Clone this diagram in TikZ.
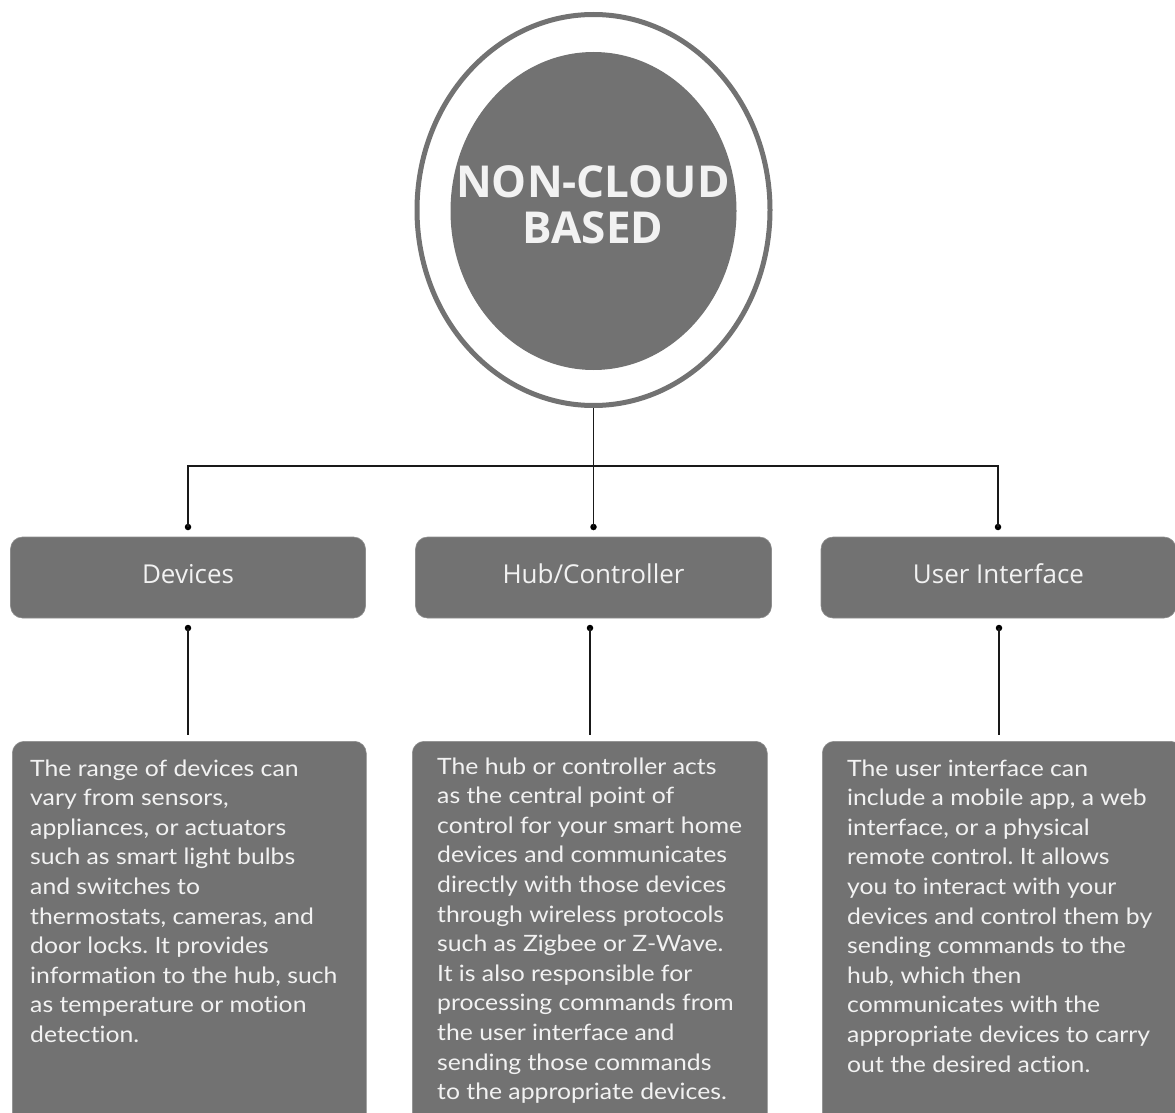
\documentclass[tikz,border=0pt]{standalone}
\usepackage{fontspec}
\setmainfont[FakeStretch=1.1,Ligatures=NoCommon]{Lato}
\newfontfamily\headfont{Open Sans}
\usetikzlibrary{shapes.geometric}
\definecolor{boxgray}{HTML}{727272}
\definecolor{lighttxt}{HTML}{F2F2F2}
\frenchspacing
\begin{document}
\begin{tikzpicture}[x=1pt,y=-1pt,
  ring/.style={ellipse, draw=boxgray, line width=5pt, inner sep=0pt, minimum width=353pt, minimum height=391pt},
  core/.style={ellipse, fill=boxgray, inner sep=0pt, minimum width=286pt, minimum height=318pt},
  headtext/.style={inner sep=0pt, anchor=base, text=lighttxt, font=\headfont\bfseries\fontsize{44}{46}\selectfont},
  titlebox/.style={rounded corners=12pt, fill=boxgray, draw=boxgray!80, line width=0.6pt, minimum width=355pt, minimum height=81pt, inner sep=0pt, text=lighttxt, text height=19pt, text depth=8pt, font=\headfont\fontsize{26}{30}\selectfont},
  bodybox/.style={rounded corners=12pt, fill=boxgray, draw=boxgray!80, line width=0.6pt, anchor=north west, minimum height=400pt, inner sep=0pt},
  bodytext/.style={inner sep=0pt, anchor=base west, text=lighttxt, font=\frenchspacing\fontsize{22.5}{29.6}\selectfont},
  conn/.style={draw=black!90, line width=1.6pt},
  dot/.style={circle, fill=black, inner sep=0pt, minimum size=6.5pt}
]
\useasboundingbox (0,0) rectangle (1175,1113);
\clip (0,0) rectangle (1175,1113);

% central circle
\node[ring] (outer) at (593.5,210) {};
\node[core] (core) at (593.5,211) {};
\node[headtext] (head) at (593,197) {\parbox[t]{300pt}{\centering NON-CLOUD\\BASED}};

% title boxes
\node[titlebox] (devices) at (188,577.5) {Devices};
\node[titlebox, minimum width=356pt] (hub) at (593.5,577.5) {Hub/Controller};
\node[titlebox] (ui) at (998.5,577.5) {User Interface};

% connector dots
\node[dot] (d1t) at (188,527) {};
\node[dot] (d2t) at (593.5,527) {};
\node[dot] (d3t) at (998,527) {};
\node[dot] (d1b) at (188,628) {};
\node[dot] (d2b) at (590,628) {};
\node[dot] (d3b) at (999,628) {};
\coordinate (j) at (593.5,466);
\coordinate (e1) at (188,735);
\coordinate (e2) at (590,735);
\coordinate (e3) at (999,735);

\draw[conn] (outer.south) -- (d2t.center);
\draw[conn] (d1t.center) |- (j) -| (d3t.center);
\draw[conn] (d1b.center) -- (e1);
\draw[conn] (d2b.center) -- (e2);
\draw[conn] (d3b.center) -- (e3);

% body boxes
\node[bodybox, minimum width=354pt] (b1) at (12,741) {};
\node[bodybox, minimum width=355pt] (b2) at (412,741) {};
\node[bodybox, minimum width=360pt] (b3) at (822,741) {};

\node[bodytext] (t1) at (30,776) {\parbox[t]{330pt}{\raggedright
The range of devices can\\
vary from sensors,\\
appliances, or actuators\\
such as smart light bulbs\\
and switches to\\
thermostats, cameras, and\\
door locks. It provides\\
information to the hub, such\\
as temperature or motion\\
detection.}};

\node[bodytext] (t2) at (437,774) {\parbox[t]{330pt}{\raggedright
The hub or controller acts\\
as the central point of\\
control for your smart home\\
devices and communicates\\
directly with those devices\\
through wireless protocols\\
such as Zigbee or Z-Wave.\\
It is also responsible for\\
processing commands from\\
the user interface and\\
sending those commands\\
to the appropriate devices.}};

\node[bodytext] (t3) at (847,776) {\parbox[t]{330pt}{\raggedright
The user interface can\\
include a mobile app, a web\\
interface, or a physical\\
remote control. It allows\\
you to interact with your\\
devices and control them by\\
sending commands to the\\
hub, which then\\
communicates with the\\
appropriate devices to carry\\
out the desired action.}};
\end{tikzpicture}
\end{document}
